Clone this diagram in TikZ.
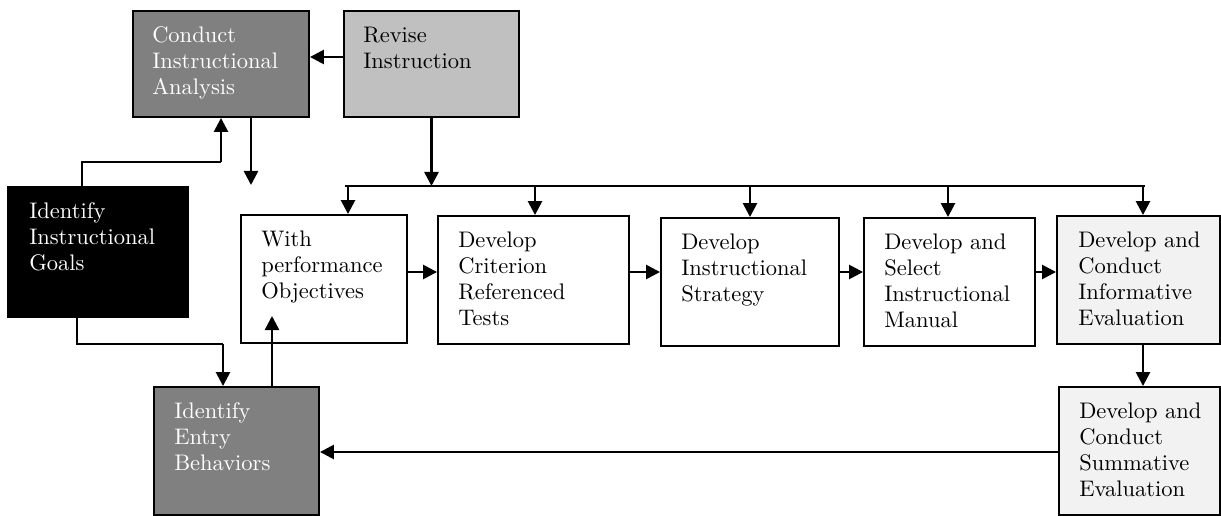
\documentclass[tikz,border=0pt]{standalone}
\usepackage{fontspec}
\newfontfamily\lmten{lmroman10-regular.otf}
\usetikzlibrary{arrows.meta}
\definecolor{dgray}{HTML}{808080}
\definecolor{lgray}{HTML}{C0C0C0}
\definecolor{vlgray}{HTML}{F2F2F2}
\begin{document}
\begin{tikzpicture}[x=1pt,y=-1pt,
  box/.style={draw=black, line width=1.9pt, rectangle, inner sep=0pt, anchor=center},
  txt/.style={anchor=north west, inner sep=0pt, align=left, font=\lmten\fontsize{22.5}{26}\selectfont},
  arr/.style={line width=2.6pt, -{Triangle[length=14pt,width=14pt]}},
  ln/.style={line width=1.7pt}]
\useasboundingbox (0,0) rectangle (1221,516);
\fill[white] (0,0) rectangle (1221,516);
% boxes
\node[box, fill=dgray, minimum width=176pt, minimum height=106pt] (cia) at (221,64) {};
\node[box, fill=lgray, minimum width=175pt, minimum height=106pt] (ri) at (431.5,64) {};
\node[box, fill=black, minimum width=180pt, minimum height=130pt] (iig) at (98,252) {};
\node[box, fill=white, minimum width=166pt, minimum height=128pt] (wpo) at (324,279) {};
\node[box, fill=white, minimum width=191pt, minimum height=128pt] (dcrt) at (533.5,280) {};
\node[box, fill=white, minimum width=178pt, minimum height=128pt] (dis) at (750,282) {};
\node[box, fill=white, minimum width=171pt, minimum height=128pt] (dsim) at (949.5,282) {};
\node[box, fill=vlgray, minimum width=163pt, minimum height=128pt] (dcie) at (1138.5,280) {};
\node[box, fill=vlgray, minimum width=161pt, minimum height=128pt] (dcse) at (1139.5,451) {};
\node[box, fill=dgray, minimum width=165pt, minimum height=128pt] (ieb) at (236.5,451) {};
% texts
\node[txt, text=white] (ciat) at ([shift={(20,16.5)}]cia.north west) {Conduct\\Instructional\\Analysis};
\node[txt] (rit) at ([shift={(20,16.5)}]ri.north west) {Revise\\Instruction};
\node[txt, text=white] (iigt) at ([shift={(22,16.5)}]iig.north west) {Identify\\Instructional\\Goals};
\node[txt] (wpot) at ([shift={(21,16.5)}]wpo.north west) {With\\performance\\Objectives};
\node[txt] (dcrtt) at ([shift={(21,16.5)}]dcrt.north west) {Develop\\Criterion\\Referenced\\Tests};
\node[txt] (dist) at ([shift={(21,16.5)}]dis.north west) {Develop\\Instructional\\Strategy};
\node[txt] (dsimt) at ([shift={(21,16.5)}]dsim.north west) {Develop and\\Select\\Instructional\\Manual};
\node[txt] (dciet) at ([shift={(22,16.5)}]dcie.north west) {Develop and\\Conduct\\Informative\\Evaluation};
\node[txt] (dcset) at ([shift={(21,16.5)}]dcse.north west) {Develop and\\Conduct\\Summative\\Evaluation};
\node[txt, text=white] (iebt) at ([shift={(21,16.5)}]ieb.north west) {Identify\\Entry\\Behaviors};
% coordinates
\coordinate (a57) at (0,57);
\coordinate (cf) at (251,185);
\coordinate (k1) at (82,162);
\coordinate (k2) at (77,344);
\coordinate (k3) at (223,344);
\coordinate (k4) at (272,316);
\coordinate (h) at (0,272);
\coordinate (k5) at (0,452);
\coordinate (bL) at (345,186);
\coordinate (bR) at (1145,186);
\coordinate (b1) at (348,186);
\coordinate (b2) at (535,186);
\coordinate (b3) at (750,186);
\coordinate (b4) at (948,186);
\coordinate (b5) at (1143,186);
% connectors
\draw[arr] (ri.west |- a57) -- (cia.east |- a57);
\draw[arr] (cf |- cia.south) -- (cf);
\draw[ln] (k1 |- iig.north) -- (k1) -- (cia.south |- k1);
\draw[arr] (cia.south |- k1) -- (cia.south);
\draw[arr] (ri.south) -- (ri.south |- bL);
\draw[ln] (bL) -- (bR);
\draw[arr] (b1) -- (b1 |- wpo.north);
\draw[arr] (b2) -- (b2 |- dcrt.north);
\draw[arr] (b3) -- (b3 |- dis.north);
\draw[arr] (b4) -- (b4 |- dsim.north);
\draw[arr] (b5) -- (b5 |- dcie.north);
\draw[arr] (wpo.east |- h) -- (dcrt.west |- h);
\draw[arr] (dcrt.east |- h) -- (dis.west |- h);
\draw[arr] (dis.east |- h) -- (dsim.west |- h);
\draw[arr] (dsim.east |- h) -- (dcie.west |- h);
\draw[arr] (b5 |- dcie.south) -- (b5 |- dcse.north);
\draw[arr] (dcse.west |- k5) -- (ieb.east |- k5);
\draw[ln] (k2 |- iig.south) -- (k2) -- (k3);
\draw[arr] (k3) -- (k3 |- ieb.north);
\draw[arr] (k4 |- ieb.north) -- (k4);
\end{tikzpicture}
\end{document}
